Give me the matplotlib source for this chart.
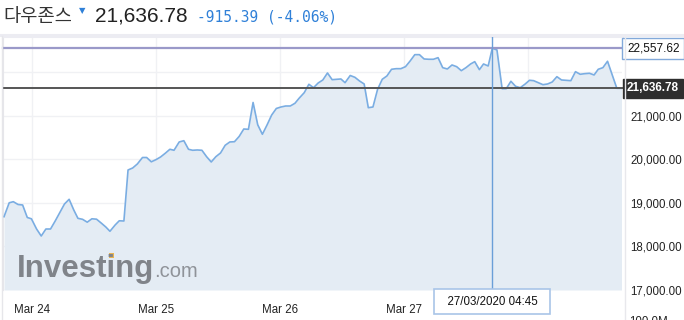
import numpy as np
import matplotlib.pyplot as plt
import matplotlib.transforms as mtransforms
from matplotlib.patches import Rectangle

# ---------------- 데이터 (Mar 24 00:00 기준 시간, 다우존스 지수) ----------------
hours = [-5.4, -4.4, -3.6, -2.7, -1.8, -0.9, -0.1, 0.9, 1.8, 2.7,
         3.6, 4.5, 5.4, 6.3, 7.2, 8.1, 8.9, 9.8, 10.7, 11.6,
         12.5, 13.4, 14.3, 15.1, 16.1, 16.9, 17.8, 18.6, 19.5, 20.4,
         21.4, 22.2, 23.1, 24.0, 24.9, 25.8, 26.7, 27.5, 28.5, 29.4,
         30.3, 31.1, 32.0, 32.9, 33.8, 34.7, 35.6, 36.5, 37.4, 38.3,
         39.2, 40.1, 41.0, 41.9, 42.8, 43.7, 44.6, 45.5, 46.4, 47.3,
         48.2, 49.1, 50.0, 50.9, 51.7, 52.7, 53.6, 54.5, 55.4, 56.3,
         57.2, 58.1, 59.0, 59.8, 60.6, 61.6, 62.5, 63.4, 64.3, 65.1,
         66.0, 66.9, 67.8, 68.7, 69.6, 70.5, 71.4, 72.3, 73.2, 74.1,
         75.0, 75.9, 76.8, 77.7, 78.6, 79.5, 80.4, 81.3, 82.2, 83.1,
         84.0, 84.9, 85.7, 86.6, 87.4, 88.3, 89.1, 90.0, 91.0, 91.8,
         92.7, 93.6, 94.5, 95.4, 96.3, 97.1, 98.0, 98.9, 99.8, 100.7,
         101.6, 102.5, 103.4, 104.3, 105.2, 106.1, 107.0, 107.9, 108.8, 109.6,
         110.5, 111.4, 112.3, 113.2, 114.1]

dow = [18685, 19005, 19030, 18966, 18954, 18667, 18637, 18402, 18241, 18402,
       18402, 18586, 18782, 18977, 19085, 18839, 18648, 18625, 18559, 18637,
       18628, 18540, 18448, 18350, 18494, 18591, 18586, 19759, 19805, 19897,
       20046, 20046, 19947, 19996, 20058, 20143, 20235, 20212, 20403, 20432,
       20235, 20212, 20219, 20212, 20065, 19943, 20065, 20150, 20327, 20403,
       20409, 20529, 20701, 20694, 21311, 20798, 20580, 20793, 21023, 21173,
       21207, 21230, 21230, 21292, 21407, 21536, 21729, 21651, 21759, 21828,
       21989, 21835, 21844, 21851, 21766, 21931, 21890, 21805, 21736, 21191,
       21207, 21614, 21844, 21920, 22074, 22088, 22088, 22134, 22265, 22410,
       22410, 22311, 22304, 22304, 22341, 22111, 22081, 22173, 22134, 22042,
       22111, 22196, 22249, 22065, 22196, 22150, 22557.62, 22518, 21628, 21628,
       21798, 21683, 21651, 21729, 21821, 21812, 21766, 21720, 21736, 21782,
       21904, 21828, 21821, 21812, 22019, 21959, 21973, 21982, 21943, 22074,
       22111, 22258, 21950, 21636.78, 21636.78]

day_ticks = [0, 24, 48, 72, 96]
day_labels = ['Mar 24', 'Mar 25', 'Mar 26', 'Mar 27', '']
y_grid = [17000, 18000, 19000, 20000, 21000, 22000]
y_labels = [17000, 18000, 19000, 20000, 21000]

last_price = 21636.78
high_price = 22557.62
tooltip = '27/03/2020 04:45'

W, H = 684, 320
fig = plt.figure(figsize=(W / 100, H / 100), dpi=100)
ax = fig.add_axes([3 / W, 30 / H, 619 / W, 254 / H])

# 영역 채우기 + 라인
ax.fill_between(hours, dow, 17000, color='#e4ecf4', lw=0, zorder=1)
ax.plot(hours, dow, color='#7aade2', lw=1.2, zorder=3)

# 가로선 (고가 / 현재가)
ax.axhline(high_price, color='#9a99c9', lw=1.6, zorder=4, clip_on=False)
ax.axhline(last_price, color='#555555', lw=1.4, zorder=4, clip_on=False)

# 십자선
i_max = int(np.argmax(dow))
ax.axvline(hours[i_max], color='#6a9fd8', lw=1.0, zorder=5)

ax.set_xlim(-5.6, 114.2)
ax.set_ylim(17000, 22839)

# 그리드
for d in day_ticks:
    ax.axvline(d, color='#f0f1f4', lw=1, zorder=0.5)
for yv in y_grid:
    ax.axhline(yv, color='#f0f1f4', lw=1, zorder=0.5)

ax.set_xticks(day_ticks)
ax.set_xticklabels(day_labels)
ax.yaxis.tick_right()
ax.set_yticks(y_labels)
ax.set_yticklabels(['{:,.2f}'.format(v) for v in y_labels])
ax.tick_params(axis='both', length=0, labelsize=8.3, colors='#222222')
ax.tick_params(axis='x', pad=10)
ax.tick_params(axis='y', pad=6)
for lab in ax.get_xticklabels() + ax.get_yticklabels():
    lab.set_family('Liberation Sans')

for s in ['bottom', 'right']:
    ax.spines[s].set_visible(False)
ax.spines['left'].set_color('#e6e6ea')
ax.spines['top'].set_color('#ececf2')
ax.spines['top'].set_linewidth(2.2)

# 오른쪽/왼쪽 구분선
fig.add_artist(plt.Line2D([624.5 / W, 624.5 / W], [0, 284 / H], color='#e8e8ec', lw=1))
fig.add_artist(plt.Line2D([0, 1], [285 / H, 285 / H], color='#ececf2', lw=2.2))
fig.add_artist(plt.Line2D([1.5 / W, 1.5 / W], [0, 284 / H], color='#e6e6ea', lw=1))

# 가격 라벨 박스
blend = mtransforms.blended_transform_factory(ax.transAxes, ax.transData)
ax.text(1.008, high_price, '{:,.2f}'.format(high_price), transform=blend,
        ha='left', va='center', fontsize=8.5, family='Liberation Sans', color='#111111',
        bbox=dict(boxstyle='square,pad=0.38', fc='white', ec='#82a9da', lw=1), zorder=6)
ax.text(1.008, last_price, '{:,.2f}'.format(last_price), transform=blend,
        ha='left', va='center', fontsize=8.5, family='Liberation Sans', color='white',
        fontweight='bold',
        bbox=dict(boxstyle='square,pad=0.32', fc='#2e2e2e', ec='#2e2e2e', lw=1), zorder=6)

# 십자선 시간 툴팁
blend_x = mtransforms.blended_transform_factory(ax.transData, ax.transAxes)
ax.text(hours[i_max], -0.046, '  ' + tooltip + '  ', transform=blend_x,
        ha='center', va='center', fontsize=8.3, family='Liberation Sans',
        color='#111111', zorder=7, clip_on=False,
        bbox=dict(boxstyle='square,pad=0.55', fc='white', ec='#a9c5e8', lw=1.2))

# 거래량 축 라벨 (아래쪽이 잘림)
fig.text(629 / W, 1 - 316 / H, '100.0M', ha='left', va='top', fontsize=8.3,
         family='Liberation Sans', color='#222222')

# 워터마크
r = fig.canvas.get_renderer()
t1 = fig.text(17 / W, 1 - 277 / H, 'Investing', fontsize=22.5, fontweight='bold',
              family='Liberation Sans', color='#80848a', va='baseline', zorder=2)
w_inv = t1.get_window_extent(r).width
fig.text((17 + w_inv) / W, 1 - 277 / H, '.com', fontsize=14.5,
         family='Liberation Sans', color='#8f9399', va='baseline')
tmp = fig.text(17 / W, 1 - 277 / H, 'Invest', fontsize=22.5, fontweight='bold',
               family='Liberation Sans')
w_pre = tmp.get_window_extent(r).width
tmp.remove()
fig.add_artist(Rectangle(((17 + w_pre + 1.5) / W, 1 - 258 / H), 5 / W, 5 / H,
                         color='#e9b451', lw=0))

# 헤더
fig.text(3 / W, 1 - 22 / H, '다우존스', fontsize=13.5, color='#333333',
         family=['Noto Sans CJK KR', 'DejaVu Sans'], va='baseline')
fig.text(79 / W, 1 - 10.5 / H, '▼', fontsize=6, color='#2f80d8', va='center',
         family='DejaVu Sans')
fig.text(95 / W, 1 - 22 / H, '{:,.2f}'.format(last_price), fontsize=15,
         color='#222222', family='Liberation Sans', va='baseline')
fig.text(197 / W, 1 - 21 / H, '-915.39 (-4.06%)', fontsize=10.5, color='#2f80d8',
         family='DejaVu Sans Mono', va='baseline')

fig.savefig('out.png', dpi=100)
